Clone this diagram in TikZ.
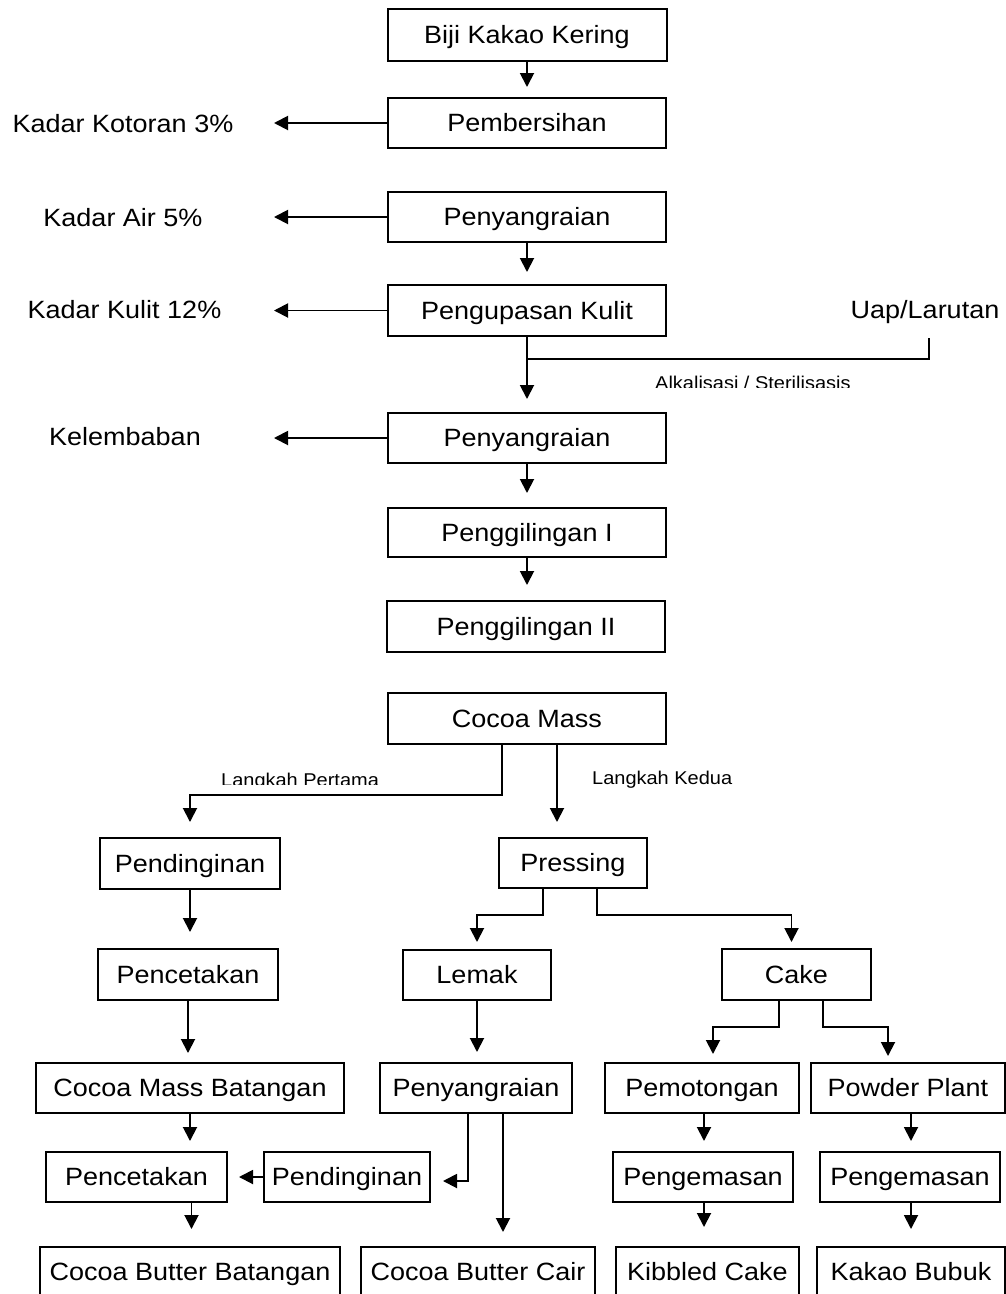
\documentclass[tikz,border=0pt]{standalone}
\usepackage{fontspec}
\setmainfont{Liberation Sans}[FakeStretch=1.08]
\usetikzlibrary{arrows.meta}
\tikzset{
  box/.style={draw, line width=2pt, inner sep=0pt, text height=17.9pt, text depth=0pt,
    font=\fontsize{25}{30}\selectfont, minimum height=50pt},
  lbl/.style={inner sep=0pt, text height=17.9pt, text depth=0pt, font=\fontsize{25}{30}\selectfont},
  small/.style={inner sep=0pt, font=\fontsize{18.5}{22}\selectfont},
  line/.style={line width=1.9pt},
  arr/.style={line width=1.9pt, -{Triangle[length=14pt,width=14pt]}},
}
\begin{document}
\begin{tikzpicture}[x=1pt,y=-1pt]
\clip (0,0) rectangle (1006,1294);
\fill[white] (0,0) rectangle (1006,1294);
% main column
\node[box, minimum width=279pt, minimum height=52pt] (biji) at (527,35) {Biji Kakao Kering};
\node[box, minimum width=278pt] (pemb) at (527,123) {Pembersihan};
\node[box, minimum width=278pt] (peny1) at (527,217) {Penyangraian};
\node[box, minimum width=278pt, minimum height=51pt] (pengup) at (527,310.5) {Pengupasan Kulit};
\node[box, minimum width=278pt] (peny2) at (527,438) {Penyangraian};
\node[box, minimum width=278pt, minimum height=49pt] (gil1) at (527,532.5) {Penggilingan I};
\node[box, minimum width=278pt, minimum height=51pt] (gil2) at (526,626.5) {Penggilingan II};
\node[box, minimum width=278pt, minimum height=51pt] (cmass) at (527,718.5) {Cocoa Mass};
% left labels
\node[lbl] (kotor) at (123,124) {Kadar Kotoran 3\%};
\node[lbl] (air) at (123,218) {Kadar Air 5\%};
\node[lbl] (kulit) at (124.5,310) {Kadar Kulit 12\%};
\node[lbl] (lembab) at (125,437) {Kelembaban};
\node[lbl, minimum height=56pt] (uap) at (925,310) {Uap/Larutan};
\coordinate (tipx) at (274,0);
\coordinate (j2) at (527,359);
% lower part
\node[box, minimum width=180pt, minimum height=51pt] (pend1) at (190,863.5) {Pendinginan};
\node[box, minimum width=148pt] (press) at (573,863) {Pressing};
\node[box, minimum width=180pt, minimum height=51pt] (cetak1) at (188,974.5) {Pencetakan};
\node[box, minimum width=148pt] (lemak) at (477,975) {Lemak};
\node[box, minimum width=149pt, minimum height=51pt] (cake) at (796.5,974.5) {Cake};
\node[box, minimum width=308pt] (cmb) at (190,1088) {Cocoa Mass Batangan};
\node[box, minimum width=192pt] (peny3) at (476,1088) {Penyangraian};
\node[box, minimum width=194pt] (potong) at (702,1088) {Pemotongan};
\node[box, minimum width=194pt] (powder) at (908,1088) {Powder Plant};
\node[box, minimum width=181pt] (cetak2) at (136.5,1177) {Pencetakan};
\node[box, minimum width=166pt] (pend2) at (347,1177) {Pendinginan};
\node[box, minimum width=180pt] (kemas1) at (703,1177) {Pengemasan};
\node[box, minimum width=180pt] (kemas2) at (910,1177) {Pengemasan};
\node[box, minimum width=300pt] (cbb) at (190,1272) {Cocoa Butter Batangan};
\node[box, minimum width=234pt] (cbc) at (478,1272) {Cocoa Butter Cair};
\node[box, minimum width=183pt] (kib) at (707.5,1272) {Kibbled Cake};
\node[box, minimum width=188pt] (bubuk) at (911,1272) {Kakao Bubuk};
% small labels (clipped at the bottom as in the original)
\begin{scope}
\clip (600,360) rectangle (900,387);
\node[small, anchor=base west] (alk) at (655,389) {Alkalisasi / Sterilisasis};
\end{scope}
\begin{scope}
\clip (200,760) rectangle (400,784);
\node[small, anchor=base west] (lp) at (221,786) {Langkah Pertama};
\end{scope}
\node[small, anchor=base west] (lk) at (592,784) {Langkah Kedua};
% main column arrows
\draw[arr, shorten >=10pt] (biji) -- (pemb);
\draw[arr, shorten >=12pt] (peny1) -- (pengup);
\draw[arr, shorten >=13pt] (pengup) -- (peny2);
\draw[arr, shorten >=14pt] (peny2) -- (gil1);
\draw[arr, shorten >=15pt] (gil1.south) -- (gil1.south |- gil2.north);
% side arrows
\draw[arr] (pemb.west) -- (pemb.west -| tipx);
\draw[arr] (peny1.west) -- (peny1.west -| tipx);
\draw[arr] (pengup.west) -- (pengup.west -| tipx);
\draw[arr] (peny2.west) -- (peny2.west -| tipx);
\draw[line] ([xshift=4pt]uap.south) |- (j2);
% cocoa mass branches
\draw[arr, shorten >=15pt] ([xshift=-25pt]cmass.south) -- ++(0,50) -| (pend1.north);
\draw[arr, shorten >=15pt] ([xshift=30pt]cmass.south) -- ([xshift=-16pt]press.north);
\draw[arr, shorten >=16pt] (pend1) -- (pend1.south |- cetak1.north);
\draw[arr, shorten >=9pt] (cetak1.south) -- (cetak1.south |- cmb.north);
\draw[arr, shorten >=7pt] ([xshift=-30pt]press.south) -- ++(0,26) -| (lemak.north);
\draw[arr, shorten >=6pt] ([xshift=24pt]press.south) -- ++(0,26) -| ([xshift=-5pt]cake.north);
\draw[arr, shorten >=10pt] (lemak.south) -- (lemak.south |- peny3.north);
\draw[arr, shorten >=8pt] ([xshift=-17.5pt]cake.south) -- ++(0,26) -| ([xshift=11pt]potong.north);
\draw[arr, shorten >=6pt] ([xshift=26.5pt]cake.south) -- ++(0,26) -| ([xshift=-20pt]powder.north);
\draw[arr, shorten >=10pt] (cmb.south) -- (cmb.south |- cetak2.north);
\draw[arr, shorten >=17pt] ([xshift=55pt]cetak2.south) -- ([xshift=55pt]cetak2.south |- cbb.north);
\draw[arr, shorten >=11pt] (pend2.west) -- (cetak2.east);
\draw[arr, shorten >=12pt] ([xshift=-8pt]peny3.south) |- ([yshift=-4pt]pend2.east);
\draw[arr, shorten >=14pt] ([xshift=27pt]peny3.south) -- ([xshift=27pt]peny3.south |- cbc.north);
\draw[arr, shorten >=10pt] ([xshift=2pt]potong.south) -- ([xshift=2pt]potong.south |- kemas1.north);
\draw[arr, shorten >=19pt] ([xshift=1pt]kemas1.south) -- ([xshift=1pt]kemas1.south |- kib.north);
\draw[arr, shorten >=10pt] ([xshift=3pt]powder.south) -- ([xshift=3pt]powder.south |- kemas2.north);
\draw[arr, shorten >=17pt] ([xshift=1pt]kemas2.south) -- ([xshift=1pt]kemas2.south |- bubuk.north);
\end{tikzpicture}
\end{document}
